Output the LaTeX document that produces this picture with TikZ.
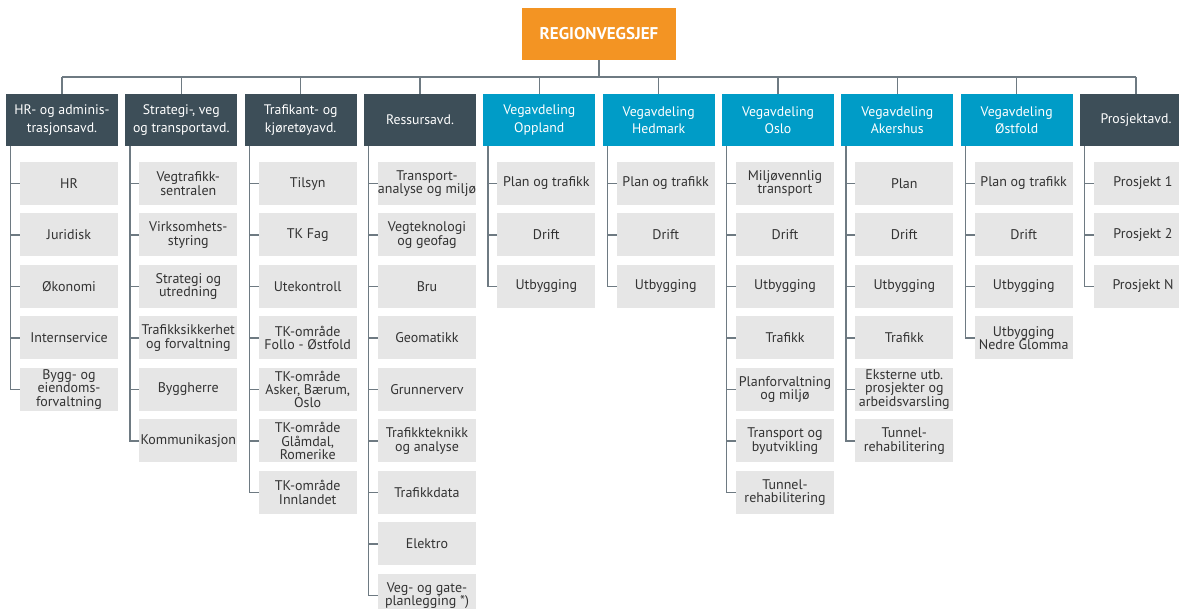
\documentclass[tikz,border=0pt]{standalone}
\usepackage{fontspec}
\setmainfont{PT Sans}
\usepackage{tikz}
\usetikzlibrary{calc}

\tikzset{
  sjef/.style={fill=oransje, text=white, minimum width=154pt, minimum height=52pt,
    inner sep=0pt, font=\bfseries\fontsize{17}{19}\selectfont},
  avd/.style={fill=morkgra, text=white, minimum width=112pt, minimum height=52pt,
    inner sep=0pt, align=center, font=\fontsize{13.8}{17.5}\selectfont},
  vegavd/.style={avd, fill=bla},
  enhet/.style={fill=lysgra, text=tekstgra, minimum width=98pt, minimum height=43pt,
    inner sep=0pt, align=center, font=\fontsize{14}{13.4}\selectfont},
  linje/.style={draw=linjegra, line width=1.3pt}
}

\begin{document}
\begin{tikzpicture}[x=1pt, y=-1pt]
    \definecolor{oransje}{HTML}{F39423}
    \definecolor{morkgra}{HTML}{3D4E58}
    \definecolor{bla}{HTML}{009CC7}
    \definecolor{lysgra}{HTML}{E6E6E6}
    \definecolor{linjegra}{HTML}{6E7A82}
    \definecolor{tekstgra}{HTML}{333333}
    \useasboundingbox (0,0) rectangle (1179,609);

    % Regionvegsjef
    \node[sjef] (sjef) at (599,34) {REGIONVEGSJEF};
    \coordinate (buss) at (599,77);

    % HR- og administrasjonsavd.
    \node[avd] (h1) at (62,120) {HR- og adminis-\\trasjonsavd.};
    \foreach \tekst [count=\i] in {HR, Juridisk, Økonomi, Internservice,
        {Bygg- og\\eiendoms-\\forvaltning}}
      \node[enhet] (h1-\i) at (69,{183.5+51.5*(\i-1)}) {\tekst};

    % Strategi-, veg og transportavd.
    \node[avd] (h2) at (181.3,120) {Strategi-, veg\\og transportavd.};
    \foreach \tekst [count=\i] in {{Vegtrafikk-\\sentralen}, {Virksomhets-\\styring},
        {Strategi og\\utredning}, {Trafikksikkerhet\\og forvaltning}, Byggherre, Kommunikasjon}
      \node[enhet] (h2-\i) at (188.3,{183.5+51.5*(\i-1)}) {\tekst};

    % Trafikant- og kjøretøyavd.
    \node[avd] (h3) at (300.7,120) {Trafikant- og\\kjøretøyavd.};
    \foreach \tekst [count=\i] in {Tilsyn, TK Fag, Utekontroll, {TK-område\\Follo - Østfold},
        {TK-område\\Asker, Bærum,\\Oslo}, {TK-område\\Glåmdal,\\Romerike}, {TK-område\\Innlandet}}
      \node[enhet] (h3-\i) at (307.7,{183.5+51.5*(\i-1)}) {\tekst};

    % Ressursavd.
    \node[avd] (h4) at (420,120) {Ressursavd.};
    \foreach \tekst [count=\i] in {{Transport-\\analyse og miljø}, {Vegteknologi\\og geofag},
        Bru, Geomatikk, Grunnerverv, {Trafikkteknikk\\og analyse}, Trafikkdata, Elektro,
        {Veg- og gate-\\planlegging *)}}
      \node[enhet] (h4-\i) at (427,{183.5+51.5*(\i-1)}) {\tekst};

    % Vegavdeling Oppland
    \node[vegavd] (h5) at (539.3,120) {Vegavdeling\\Oppland};
    \foreach \tekst [count=\i] in {Plan og trafikk, Drift, Utbygging}
      \node[enhet] (h5-\i) at (546.3,{183.5+51.5*(\i-1)}) {\tekst};

    % Vegavdeling Hedmark
    \node[vegavd] (h6) at (658.7,120) {Vegavdeling\\Hedmark};
    \foreach \tekst [count=\i] in {Plan og trafikk, Drift, Utbygging}
      \node[enhet] (h6-\i) at (665.7,{183.5+51.5*(\i-1)}) {\tekst};

    % Vegavdeling Oslo
    \node[vegavd] (h7) at (778,120) {Vegavdeling\\Oslo};
    \foreach \tekst [count=\i] in {{Miljøvennlig\\transport}, Drift, Utbygging, Trafikk,
        {Planforvaltning\\og miljø}, {Transport og\\byutvikling}, {Tunnel-\\rehabilitering}}
      \node[enhet] (h7-\i) at (785,{183.5+51.5*(\i-1)}) {\tekst};

    % Vegavdeling Akershus
    \node[vegavd] (h8) at (897.3,120) {Vegavdeling\\Akershus};
    \foreach \tekst [count=\i] in {Plan, Drift, Utbygging, Trafikk,
        {Eksterne utb.\\prosjekter og\\arbeidsvarsling}, {Tunnel-\\rehabilitering}}
      \node[enhet] (h8-\i) at (904.3,{183.5+51.5*(\i-1)}) {\tekst};

    % Vegavdeling Østfold
    \node[vegavd] (h9) at (1016.7,120) {Vegavdeling\\Østfold};
    \foreach \tekst [count=\i] in {Plan og trafikk, Drift, Utbygging, {Utbygging\\Nedre Glomma}}
      \node[enhet] (h9-\i) at (1023.7,{183.5+51.5*(\i-1)}) {\tekst};

    % Prosjektavd.
    \node[avd] (h10) at (1136,120) {Prosjektavd.};
    \foreach \tekst [count=\i] in {Prosjekt 1, Prosjekt 2, Prosjekt N}
      \node[enhet] (h10-\i) at (1143,{183.5+51.5*(\i-1)}) {\tekst};

    % Linjer
    \draw[linje] (sjef.south) -- (buss);
    \draw[linje] (h1.north |- buss) -- (h10.north |- buss);
    \foreach \k/\n in {1/5, 2/6, 3/7, 4/9, 5/3, 6/3, 7/7, 8/6, 9/4, 10/3} {
      \draw[linje] (h\k.north) -- (h\k.north |- buss);
      \coordinate (s\k) at ([xshift=5pt]h\k.south west);
      \draw[linje] (s\k) |- (h\k-\n.west);
      \foreach \i in {1,...,\n}
        \draw[linje] (h\k-\i.west) -- (h\k-\i.west -| s\k);
    }
  \end{tikzpicture}
\end{document}
